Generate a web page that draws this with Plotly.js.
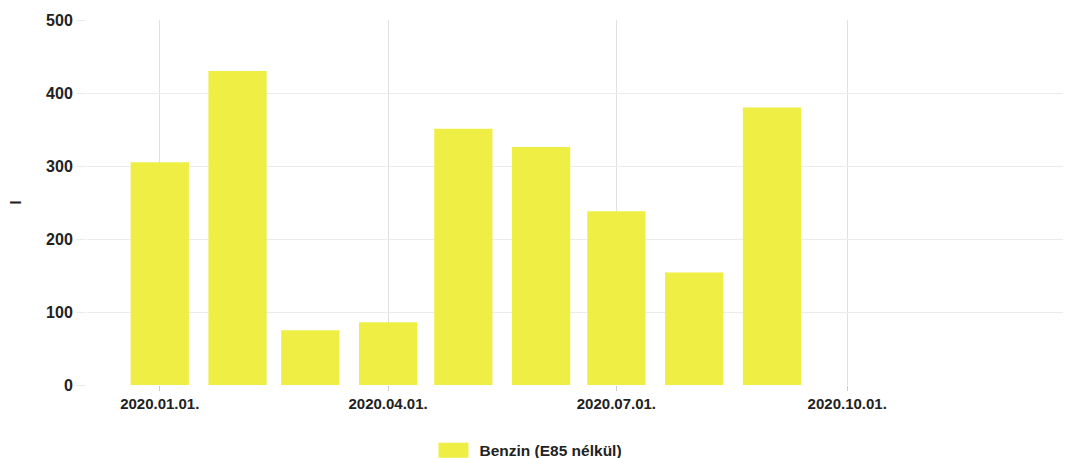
<!DOCTYPE html>
<html>
<head>
<meta charset="utf-8">
<script src="https://cdn.plot.ly/plotly-3.0.1.min.js"></script>
<style>html,body{margin:0;padding:0;background:#fff;}#chart{width:1065px;height:458px;}</style>
</head>
<body>
<div id="chart"></div>
<script>
const months = ['2020-01-01','2020-02-01','2020-03-01','2020-04-01','2020-05-01','2020-06-01','2020-07-01','2020-08-01','2020-09-01'];
const values = [305, 430, 75, 86, 351, 326, 238, 154, 380];
const tickDates = ['2020-01-01','2020-04-01','2020-07-01','2020-10-01'];
const tickLabels = ['2020.01.01.','2020.04.01.','2020.07.01.','2020.10.01.'];
const seriesName = 'Benzin (E85 nélkül)';

const fontFam = 'Liberation Sans, Arial, sans-serif';
Plotly.newPlot('chart', [{
  type: 'bar',
  x: months,
  y: values,
  name: seriesName,
  marker: {color: '#eeee44'},
  showlegend: true
}], {
  width: 1065, height: 458,
  margin: {l: 87, r: 2, t: 20, b: 73},
  paper_bgcolor: '#fff', plot_bgcolor: '#fff',
  font: {family: fontFam, size: 15, color: '#222'},
  bargap: 0.2,
  xaxis: {
    type: 'date',
    range: ['2019-12-03', '2020-12-26'],
    tickmode: 'array', tickvals: tickDates, ticktext: tickLabels,
    showgrid: true, gridcolor: '#e0e0e0',
    ticks: 'outside', ticklen: 5, tickcolor: '#ccc',
    tickfont: {family: fontFam, size: 15, color: '#222', weight: 'bold'},
    showline: false, zeroline: false, automargin: false
  },
  yaxis: {
    range: [0, 500], dtick: 100,
    showgrid: true, gridcolor: '#ebebeb',
    ticks: 'outside', ticklen: 10, tickcolor: '#ebebeb',
    tickfont: {family: fontFam, size: 16, color: '#222', weight: 'bold'},
    title: {text: 'l', font: {family: fontFam, size: 15, color: '#222', weight: 'bold'}, standoff: 20},
    zeroline: false, showline: false, automargin: true
  },
  legend: {
    orientation: 'h', x: 0.4962, xref: 'container', xanchor: 'center',
    y: 0.016, yref: 'container', yanchor: 'middle',
    itemwidth: 40,
    font: {family: fontFam, size: 15.5, color: '#222', weight: 'bold'}
  }
}, {displayModeBar: false, staticPlot: true}).then(function(gd){
  gd.querySelectorAll('.legendpoints path').forEach(function(p){
    p.setAttribute('d', 'M15,7.5H-15V-7.5H15Z');
  });
  gd.querySelectorAll('.legendpoints').forEach(function(g){
    g.setAttribute('transform', 'translate(-1,0)');
  });
});
</script>
</body>
</html>
